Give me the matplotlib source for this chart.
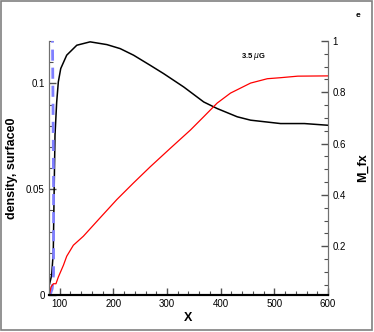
import numpy as np
import matplotlib
matplotlib.use('Agg')
import matplotlib.pyplot as plt
from matplotlib.ticker import MultipleLocator
from matplotlib.patches import Rectangle

plt.rcParams['font.family'] = ['Liberation Sans', 'DejaVu Sans']

# density (left axis), black curve
xd = [80.6, 85, 88, 89.3, 91.2, 94.3, 97.4, 101.9, 113, 131.8, 156.6, 187.9, 212.7,
      237.6, 268.8, 293.6, 331, 368.4, 393.4, 430.8, 455.7, 511.6, 556, 599.6]
yd = [0.0047, 0.0094, 0.0204, 0.044, 0.0755, 0.091, 0.1007, 0.107, 0.1133, 0.118, 0.1196,
      0.1183, 0.1164, 0.1133, 0.1085, 0.1046, 0.0983, 0.0912, 0.0881, 0.0842, 0.0826,
      0.081, 0.081, 0.0802]

# surface0 (left axis), blue dashed
xs = [82, 86, 88.5, 88.5, 87.5, 86.5]
ys = [0.0, 0.003, 0.01, 0.05, 0.09, 0.12]

# M_fx (right axis), red curve
xm = [80.6, 83.7, 88, 93, 97.4, 106.9, 113, 125.4, 144, 175.3, 206.4, 237.6, 268.8,
      306.2, 343.6, 368.4, 393.4, 418.3, 455.7, 486.9, 511.6, 543.7, 599.6]
ym = [0.0085, 0.041, 0.054, 0.054, 0.08, 0.126, 0.161, 0.204, 0.239, 0.311, 0.382,
      0.447, 0.51, 0.582, 0.653, 0.705, 0.758, 0.797, 0.836, 0.853, 0.857, 0.863, 0.864]

fig = plt.figure(figsize=(3.74, 3.32), dpi=100)
fig.patches.append(Rectangle((0.003, 0.006), 0.991, 0.99, transform=fig.transFigure,
                             fill=False, edgecolor='#808080', linewidth=1.2))

ax = fig.add_axes([0.131, 0.1114, 0.746, 0.7651])
ax2 = ax.twinx()

ax.plot(xd, yd, color='black', lw=1.1)
ax.plot(xs, ys, color='#7f7fff', lw=2, ls=(0, (4, 2.5)))
ax2.plot(xm, ym, color='red', lw=0.9)

ax.set_xlim(80, 600)
ax.set_ylim(0, 0.12)
ax2.set_ylim(0.01, 1)

ax.xaxis.set_major_locator(MultipleLocator(100))
ax.xaxis.set_minor_locator(MultipleLocator(20))
ax.yaxis.set_major_locator(MultipleLocator(0.05))
ax.yaxis.set_minor_locator(MultipleLocator(0.01))
ax2.yaxis.set_major_locator(MultipleLocator(0.2))
ax2.yaxis.set_minor_locator(MultipleLocator(0.05))
ax.yaxis.set_major_formatter(matplotlib.ticker.FuncFormatter(lambda v, p: '0' if v == 0 else ('%g' % v)))
ax2.yaxis.set_major_formatter(matplotlib.ticker.FuncFormatter(lambda v, p: '%g' % v))

for a in (ax, ax2):
    a.spines['top'].set_visible(False)
    a.spines['left'].set_color('#707070')
    a.spines['right'].set_color('#707070')
    a.spines['bottom'].set_color('black')
    a.spines['bottom'].set_linewidth(1.5)
    a.tick_params(which='both', direction='in', labelsize=7, pad=3, color='#505050')
    a.tick_params(which='major', length=5, width=1)
    a.tick_params(which='minor', length=3, width=0.8)

ax.set_xlabel('X', fontsize=9, fontweight='bold', labelpad=2)
ax.set_ylabel('density, surface0', fontsize=9, fontweight='bold', labelpad=6)
ax2.set_ylabel('M_fx', fontsize=9, fontweight='bold', labelpad=8)

fig.text(0.677, 0.83, '3.5 $\\mu$G', fontsize=5.5, fontweight='bold', ha='center', va='center')
fig.text(0.958, 0.954, 'e', fontsize=6, fontweight='bold', ha='center', va='center')

plt.savefig('out.png', dpi=100)
